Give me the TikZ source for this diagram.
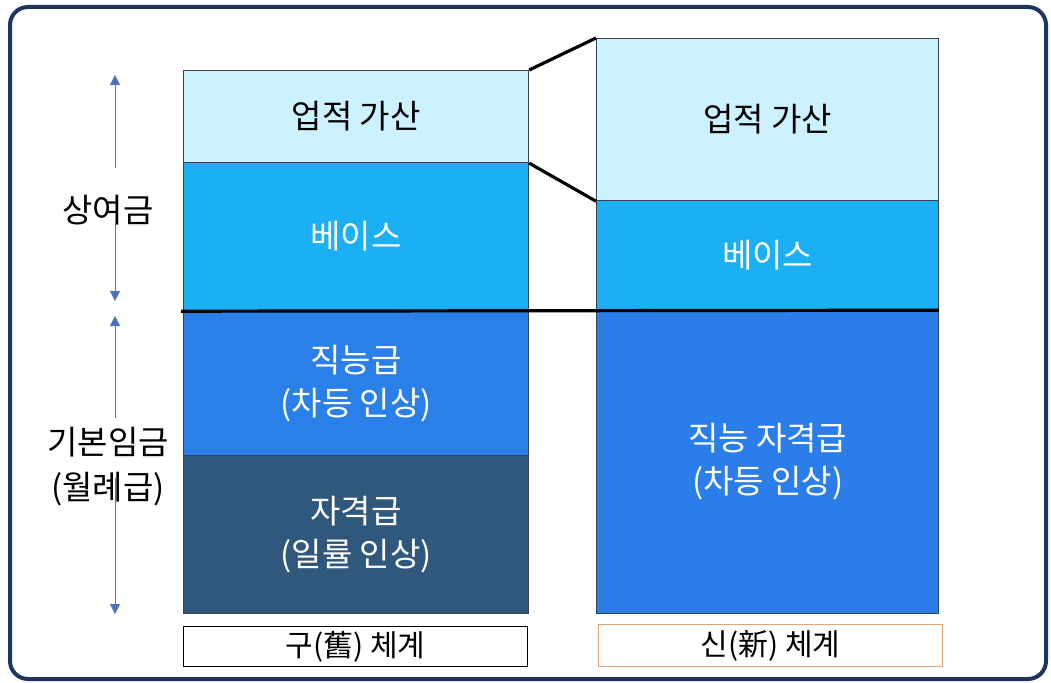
\documentclass[tikz,border=0pt]{standalone}
\usepackage{fontspec}
\setmainfont{Noto Sans CJK KR}
\usetikzlibrary{arrows.meta}
\definecolor{framec}{HTML}{1F3461}
\definecolor{lightc}{HTML}{CCF2FF}
\definecolor{basec}{HTML}{1BAFF3}
\definecolor{skillc}{HTML}{2A80E8}
\definecolor{qualc}{HTML}{30577C}
\definecolor{newc}{HTML}{2B7DEA}
\definecolor{arrowc}{HTML}{4A70C0}
\definecolor{orangec}{HTML}{E3A57A}
\definecolor{edgec}{HTML}{3A4250}
\tikzset{
  seg/.style={draw=edgec, line width=1.2pt, anchor=north west, inner sep=0pt, align=center,
    font=\fontsize{33}{43}\selectfont},
  lbl/.style={draw, line width=1pt, anchor=north west, inner sep=0pt, fill=white,
    font=\fontsize{30}{34}\selectfont},
  sidetxt/.style={align=center, font=\fontsize{33}{45}\selectfont, inner sep=0pt},
  bold/.style={line width=3.2pt, black},
  darr/.style={arrowc, line width=1pt, -{Triangle[width=10pt,length=10pt]}}
}
\begin{document}
\begin{tikzpicture}[x=1pt,y=-1pt]
\useasboundingbox (0,0) rectangle (1051,682);
\draw[framec, line width=4pt, rounded corners=18pt, fill=white] (10,7) rectangle (1046,679);
% old system
\node[seg, fill=lightc, minimum width=345pt, minimum height=92pt] (a1) at (183,70) {업적 가산};
\node[seg, fill=basec, text=white, minimum width=345pt, minimum height=148pt] (a2) at (183,162) {베이스};
\node[seg, fill=skillc, text=white, minimum width=345pt, minimum height=145pt] (a3) at (183,310) {직능급\\(차등 인상)};
\node[seg, fill=qualc, text=white, minimum width=345pt, minimum height=158pt] (a4) at (183,455) {자격급\\(일률 인상)};
% new system
\node[seg, fill=lightc, minimum width=342pt, minimum height=162pt] (b1) at (596,38) {업적 가산};
\node[seg, fill=basec, text=white, minimum width=342pt, minimum height=109pt] (b2) at (596,200) {베이스};
\node[seg, fill=newc, text=white, minimum width=342pt, minimum height=304pt] (b3) at (596,309) {직능 자격급\\(차등 인상)};
% connectors
\draw[bold] (a1.north east) -- (b1.north west);
\draw[bold] (a1.south east) -- (b1.south west);
\draw[bold] ([xshift=-2pt]a2.south west) -- (b2.south east);
% labels
\node[lbl, minimum width=344pt, minimum height=40pt] (l1) at (183,626) {구(舊) 체계};
\node[lbl, draw=orangec, minimum width=344pt, minimum height=42pt] (l2) at (598,624) {신(新) 체계};
% side texts
\node[sidetxt] (s1) at (108,210) {상여금};
\node[sidetxt] (s2) at (108,467) {기본임금\\(월례급)};
\coordinate (u1s) at (115,168); \coordinate (u1e) at (115,75);
\coordinate (d1s) at (115,220); \coordinate (d1e) at (115,301);
\coordinate (u2s) at (115,418); \coordinate (u2e) at (115,316);
\coordinate (d2s) at (115,478); \coordinate (d2e) at (115,614);
\draw[darr] (u1s) -- (u1e);
\draw[darr] (d1s) -- (d1e);
\draw[darr] (u2s) -- (u2e);
\draw[darr] (d2s) -- (d2e);
\end{tikzpicture}
\end{document}
